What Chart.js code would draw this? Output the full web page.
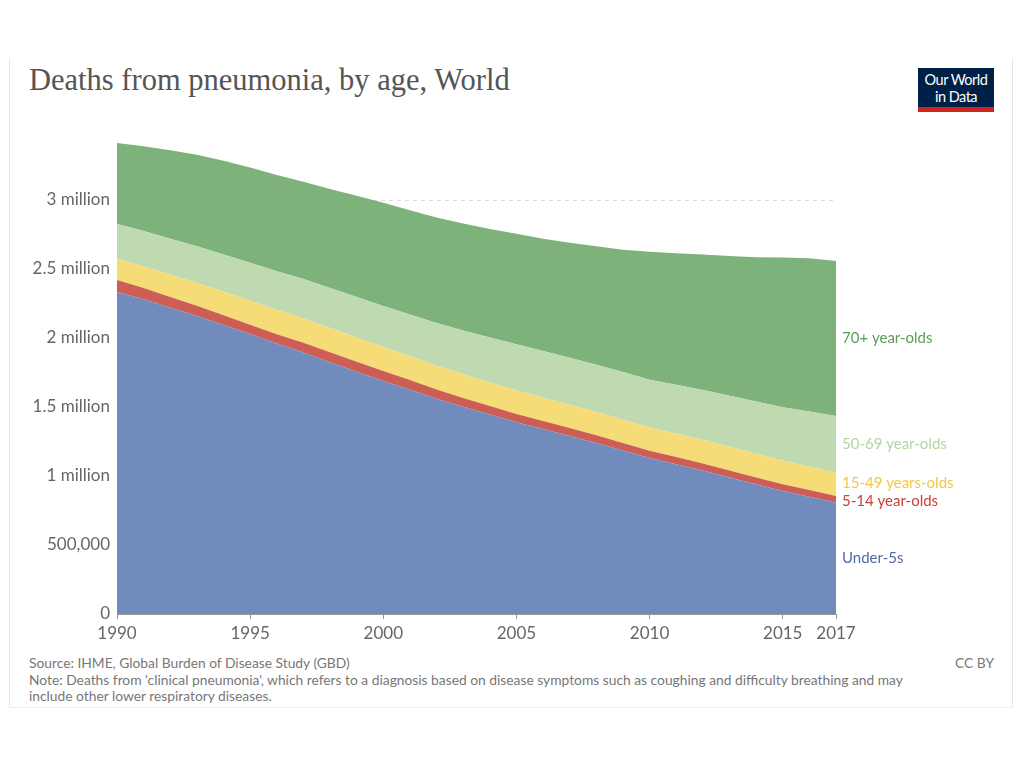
<!DOCTYPE html>
<html>
<head>
<meta charset="utf-8">
<script src="https://cdn.jsdelivr.net/npm/chart.js@4"></script>
<style>
  html, body { margin: 0; padding: 0; background: #fff; }
  body { width: 1024px; height: 768px; position: relative; overflow: hidden; font-family: Lato, "Open Sans", sans-serif; }
  #frame { position: absolute; left: 9px; top: 58px; width: 1004px; height: 650px; border-left: 1px solid #e6e6e6; border-right: 1px solid #e6e6e6; border-bottom: 1px solid #eee; box-sizing: border-box; }
  #title { position: absolute; left: 29px; top: 63px; font-family: "Liberation Serif", "DejaVu Serif", serif; font-size: 30.5px; color: #555; white-space: nowrap; }
  #logo { position: absolute; left: 918px; top: 68px; width: 76px; height: 44px; background: #002147; border-bottom: 5px solid #ce261e; box-sizing: border-box; color: #fff; font-size: 14.5px; line-height: 17px; text-align: center; padding-top: 3px; letter-spacing: -0.5px; }
  #chartBox { position: absolute; left: 0; top: 121px; width: 1024px; height: 530px; }
  .foot { position: absolute; font-size: 13.8px; color: #777; line-height: 16.5px; }
</style>
</head>
<body>
<div id="frame"></div>
<div id="title">Deaths from pneumonia, by age, World</div>
<div id="logo">Our World<br>in Data</div>
<div id="chartBox"><canvas id="myChart" width="1024" height="530"></canvas></div>
<div class="foot" style="left:29px; top:655px; width:900px;">Source: IHME, Global Burden of Disease Study (GBD)<br>Note: Deaths from 'clinical pneumonia', which refers to a diagnosis based on disease symptoms such as coughing and difficulty breathing and may include other lower respiratory diseases.</div>
<div class="foot" style="right:30px; top:655px;">CC BY</div>
<script>
const years = [1990, 1991, 1992, 1993, 1994, 1995, 1996, 1997, 1998, 1999,
    2000, 2001, 2002, 2003, 2004, 2005, 2006, 2007, 2008, 2009,
    2010, 2011, 2012, 2013, 2014, 2015, 2016, 2017];

const under5 = [2333000, 2280000, 2220000, 2160000, 2095000, 2029000, 1960000, 1895000, 1825000, 1755000,
    1688000, 1625000, 1560000, 1502000, 1445000, 1390000, 1340000, 1290000, 1240000, 1185000,
    1130000, 1085000, 1040000, 990000, 940000, 891000, 850000, 807000];
const age5to14 = [87000, 82000, 78000, 74000, 70000, 67000, 68000, 70000, 71000, 72000,
    72000, 70000, 67000, 64000, 62000, 60000, 58000, 57000, 55000, 54000,
    53000, 52000, 51000, 50000, 50000, 49000, 48000, 48000];
const age15to49 = [152000, 156000, 160000, 165000, 170000, 174000, 176000, 177000, 177000, 176000,
    174000, 173000, 172000, 171000, 170000, 170000, 169000, 169000, 169000, 169000,
    169000, 170000, 171000, 172000, 172000, 172000, 171000, 169000];
const age50to69 = [254000, 258000, 262000, 266000, 270000, 275000, 280000, 285000, 290000, 294000,
    297000, 303000, 310000, 318000, 327000, 335000, 338000, 341000, 343000, 345000,
    346000, 354000, 362000, 370000, 378000, 386000, 398000, 411000];
const age70plus = [587000, 614000, 640000, 662000, 680000, 690000, 698000, 705000, 717000, 733000,
    749000, 755000, 764000, 775000, 786000, 800000, 815000, 833000, 858000, 887000,
    927000, 954000, 981000, 1013000, 1045000, 1085000, 1110000, 1123000];

const xTicks = [1990, 1995, 2000, 2005, 2010, 2015, 2017];
const yTicks = [0, 500000, 1000000, 1500000, 2000000, 2500000, 3000000];

const seriesNames = ["Under-5s", "5-14 year-olds", "15-49 years-olds", "50-69 year-olds", "70+ year-olds"];
const seriesData = [under5, age5to14, age15to49, age50to69, age70plus];
const fillColors = ["#718bbd", "#cc5e56", "#f6dc76", "#bfdab0", "#7db27a"];
const labelColors = ["#4e6ba0", "#c8403a", "#f2c744", "#b4d4a4", "#5a9e58"];

function formatY(v) {
    if (v === 0) return "0";
    if (v < 1000000) return v.toLocaleString("en-US");
    return (v / 1000000) + " million";
}

// labels at the right end of each band
const endLabels = {
    id: "endLabels",
    afterDatasetsDraw(chart) {
        const ctx = chart.ctx;
        const y = chart.scales.y;
        const last = years.length - 1;
        let base = 0;
        const items = seriesData.map((arr, i) => {
            const lo = base;
            base += arr[last];
            return { y: y.getPixelForValue((lo + base) / 2), i: i };
        });
        // push overlapping labels apart
        const gap = 18;
        for (let pass = 0; pass < 5; pass++) {
            for (let k = 0; k < items.length - 1; k++) {
                const a = items[k], b = items[k + 1];
                const d = a.y - b.y;
                if (d < gap) {
                    const shift = (gap - d) / 2;
                    a.y += shift;
                    b.y -= shift;
                }
            }
        }
        ctx.save();
        ctx.font = "15px Lato";
        ctx.textBaseline = "middle";
        ctx.textAlign = "left";
        items.forEach(it => {
            ctx.fillStyle = labelColors[it.i];
            ctx.fillText(seriesNames[it.i], chart.chartArea.right + 6, it.y);
        });
        ctx.restore();
    }
};

const ctx = document.getElementById("myChart").getContext("2d");
const chart = new Chart(ctx, {
    type: "line",
    data: {
        datasets: seriesData.map((arr, i) => ({
            label: seriesNames[i],
            data: arr.map((v, j) => ({ x: years[j], y: v })),
            backgroundColor: fillColors[i],
            borderWidth: 0,
            pointRadius: 0,
            fill: i === 0 ? "origin" : "-1",
            tension: 0
        }))
    },
    options: {
        responsive: false,
        animation: false,
        layout: { padding: { left: 0, right: 188, top: 10, bottom: 0 } },
        plugins: {
            legend: { display: false },
            tooltip: { enabled: false }
        },
        scales: {
            x: {
                type: "linear",
                min: 1990,
                max: 2017,
                afterBuildTicks: (scale) => { scale.ticks = xTicks.map(v => ({ value: v })); },
                afterFit: (scale) => { scale.height = 37; },
                grid: { drawOnChartArea: false, drawTicks: true, tickLength: 5, color: "#999" },
                border: { display: true, color: "#999" },
                ticks: {
                    color: "#666",
                    font: { family: "Lato", size: 17 },
                    padding: 4,
                    maxRotation: 0,
                    callback: (v) => String(v)
                }
            },
            y: {
                stacked: true,
                min: 0,
                max: 3500000,
                z: 1,
                afterBuildTicks: (scale) => { scale.ticks = yTicks.map(v => ({ value: v })); },
                afterFit: (scale) => {
                    scale.width = 117;
                    scale.paddingTop = 0;
                    scale.paddingBottom = 0;
                },
                grid: { drawTicks: false, color: "rgba(0,0,0,0.14)", lineWidth: 1 },
                border: { display: false, dash: [4, 4] },
                ticks: {
                    color: "#666",
                    font: { family: "Lato", size: 17 },
                    padding: 7,
                    callback: (v) => formatY(v)
                }
            }
        }
    },
    plugins: [endLabels]
});
</script>
</body>
</html>
